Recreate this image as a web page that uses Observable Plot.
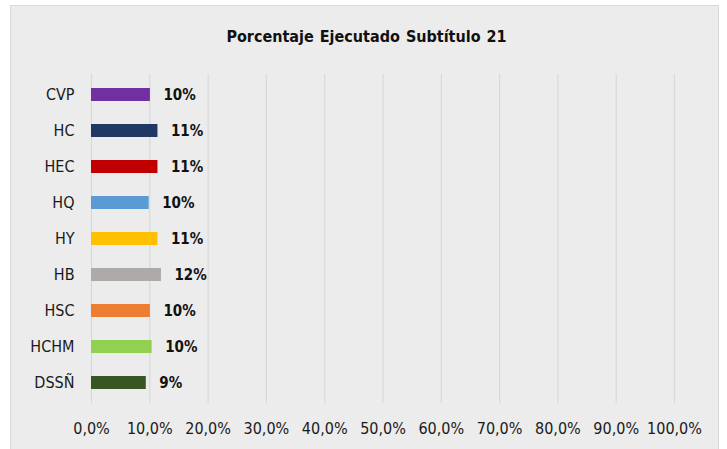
<!DOCTYPE html>
<html>
<head>
<meta charset="utf-8">
<script src="https://cdn.jsdelivr.net/npm/d3@7"></script>
<script src="https://cdn.jsdelivr.net/npm/@observablehq/plot@0.6"></script>
<style>
  html, body { margin: 0; padding: 0; background: #ffffff; width: 727px; height: 449px; overflow: hidden; }
  #frame { position: absolute; left: 10px; top: 5px; width: 709px; height: 450px; background: #ececec; border: 1px solid #d9d9d9; box-sizing: border-box; }
  #title { position: absolute; left: 0; top: 27px; width: 733px; text-align: center; font-family: "Liberation Sans Narrow", "DejaVu Sans Condensed", sans-serif; font-weight: bold; font-size: 16px; color: #111; word-spacing: 1px; }
  #chart { position: absolute; left: 0; top: 0; }
</style>
</head>
<body>
<div id="frame"></div>
<div id="title">Porcentaje Ejecutado Subtítulo 21</div>
<div id="chart"></div>
<script>
const categories = ["CVP", "HC", "HEC", "HQ", "HY", "HB", "HSC", "HCHM", "DSSÑ"];
const values = [10.1, 11.4, 11.4, 9.9, 11.4, 12.0, 10.1, 10.4, 9.4];
const colors = ["#7030A0", "#1F3864", "#C00000", "#5B9BD5", "#FFC000", "#AEAAAA", "#ED7D31", "#92D050", "#375623"];
const xTicks = [0, 10, 20, 30, 40, 50, 60, 70, 80, 90, 100];

const data = categories.map((c, i) => ({ cat: c, value: values[i], color: colors[i] }));
const font = "'Liberation Sans Narrow', 'DejaVu Sans Condensed', sans-serif";
const fmt = d => d.toFixed(1).replace(".", ",") + "%";

const plot = Plot.plot({
  width: 727,
  height: 449,
  marginLeft: 91,
  marginRight: 53,
  marginTop: 74,
  marginBottom: 46,
  style: { background: "transparent", fontFamily: font, fontSize: "16px", color: "#1a1a1a" },
  x: { domain: [0, 100], ticks: xTicks, tickFormat: fmt },
  y: { domain: categories, paddingInner: 0.64, paddingOuter: 0.32 },
  marks: [
    Plot.gridX(xTicks, { stroke: "#d9d9d9", strokeOpacity: 1, strokeWidth: 1.2 }),
    Plot.barX(data, { y: "cat", x: "value", fill: "color" }),
    Plot.text(data, { y: "cat", x: "value", text: d => Math.round(d.value) + "%", dx: 13, textAnchor: "start", fontWeight: "bold", fontSize: 15, fill: "#111" }),
    Plot.axisX({ ticks: xTicks, tickSize: 0, tickPadding: 19, tickFormat: fmt, fontSize: 16, label: null }),
    Plot.axisY({ tickSize: 0, tickPadding: 17, fontSize: 16, label: null })
  ]
});
document.getElementById("chart").appendChild(plot);
</script>
</body>
</html>
